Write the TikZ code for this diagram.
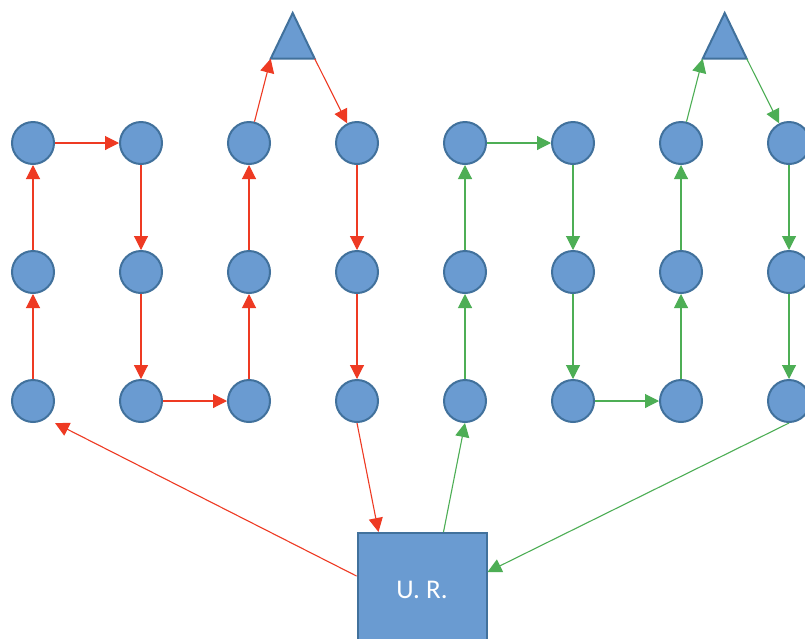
\documentclass[tikz,border=0pt]{standalone}
\usepackage{fontspec}
\setmainfont{Carlito}
\usetikzlibrary{arrows.meta,calc}
\definecolor{nodefill}{HTML}{6A9BD1}
\definecolor{nodeedge}{HTML}{41719C}
\definecolor{redline}{HTML}{EE3A23}
\definecolor{greenline}{HTML}{4DAE55}
\tikzset{
  dot/.style={circle,draw=nodeedge,fill=nodefill,line width=2pt,minimum size=42pt,inner sep=0pt},
  unit/.style={rectangle,draw=nodeedge,fill=nodefill,line width=2pt,minimum width=129pt,minimum height=114pt,inner sep=0pt,text=white,font=\fontsize{27}{30}\selectfont},
  peak/.style={draw=nodeedge,fill=nodefill,line width=2pt,line join=miter},
  rflow/.style={draw=redline,line width=1.1pt,-{Triangle[length=14pt,width=14pt]}},
  gflow/.style={draw=greenline,line width=1.1pt,-{Triangle[length=14pt,width=14pt]}}
}
\begin{document}
\begin{tikzpicture}[x=1pt,y=-1pt]
\useasboundingbox (0,0) rectangle (805,638);
\clip (0,0) rectangle (805,638);
\fill[white] (0,0) rectangle (805,638);

% grid of round nodes: columns 1..8, rows t(op), m(iddle), b(ottom)
\foreach \c/\x in {1/33,2/141,3/249,4/357,5/465,6/573,7/681,8/789}{
  \node[dot] (c\c t) at (\x,143) {};
  \node[dot] (c\c m) at (\x,272) {};
  \node[dot] (c\c b) at (\x,401) {};
}

% the two triangles
\draw[peak] (292.7,13) -- (314.7,58.7) -- (270.7,58.7) -- cycle;
\coordinate (t1l) at (270.7,58.7);
\coordinate (t1r) at (314.7,58.7);
\draw[peak] (724.7,13) -- (746.7,58.7) -- (702.7,58.7) -- cycle;
\coordinate (t2l) at (702.7,58.7);
\coordinate (t2r) at (746.7,58.7);

% the unit box
\node[unit] (ur) at (422,590) {U. R.};

% corner of the first bottom circle's box, where the return line ends
\coordinate (c1corner) at ($(c1b.center)+(22,22)$);

% red circuit
\draw[rflow] (c1b) -- (c1m);
\draw[rflow] (c1m) -- (c1t);
\draw[rflow] (c1t) -- (c2t);
\draw[rflow] (c2t) -- (c2m);
\draw[rflow] (c2m) -- (c2b);
\draw[rflow] (c2b) -- (c3b);
\draw[rflow] (c3b) -- (c3m);
\draw[rflow] (c3m) -- (c3t);
\draw[rflow] (c3t) -- (t1l);
\draw[rflow] (t1r) -- (c4t);
\draw[rflow] (c4t) -- (c4m);
\draw[rflow] (c4m) -- (c4b);
\draw[rflow] (c4b.south) -- ([xshift=22pt]ur.north west);
\draw[rflow] ([yshift=14pt]ur.west) -- (c1corner);

% green circuit
\draw[gflow] ([xshift=87pt]ur.north west) -- (c5b.south);
\draw[gflow] (c5b) -- (c5m);
\draw[gflow] (c5m) -- (c5t);
\draw[gflow] (c5t) -- (c6t);
\draw[gflow] (c6t) -- (c6m);
\draw[gflow] (c6m) -- (c6b);
\draw[gflow] (c6b) -- (c7b);
\draw[gflow] (c7b) -- (c7m);
\draw[gflow] (c7m) -- (c7t);
\draw[gflow] (c7t) -- (t2l);
\draw[gflow] (t2r) -- (c8t);
\draw[gflow] (c8t) -- (c8m);
\draw[gflow] (c8m) -- (c8b);
\draw[gflow] (c8b.south) -- ([yshift=18pt]ur.east);
\end{tikzpicture}
\end{document}
